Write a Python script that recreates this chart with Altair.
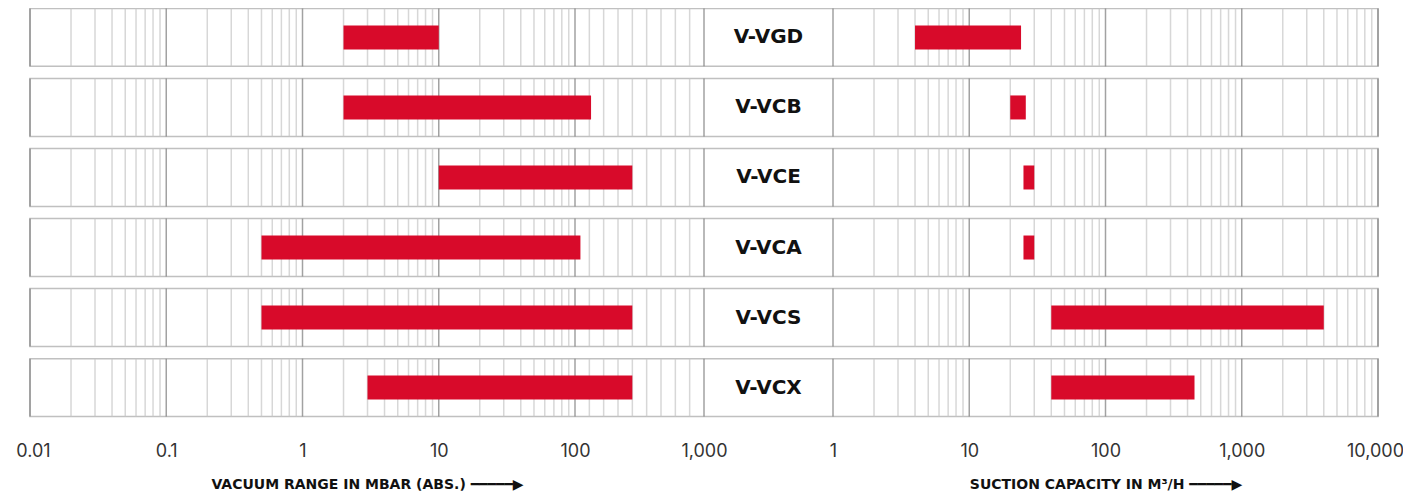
import altair as alt
import pandas as pd

# ---------------- data ----------------
models = ["V-VGD", "V-VCB", "V-VCE", "V-VCA", "V-VCS", "V-VCX"]
vac_min = [2, 2, 10, 0.5, 0.5, 3]          # mbar (abs.)
vac_max = [10, 210, 500, 130, 500, 500]
cap_min = [4, 20, 25, 25, 40, 40]          # m3/h
cap_max = [24, 26, 30, 30, 4000, 450]

vac_major = [0.01, 0.1, 1, 10, 100, 1000]
vac_decades = [0.01, 0.1, 1, 10]
vac_upper_minor = [200, 300, 400, 500, 600, 700, 800, 900]
cap_major = [1, 10, 100, 1000, 10000]
cap_decades = [1, 10, 100, 1000]
multipliers = [2, 3, 4, 5, 6, 7, 8, 9]

# ---------------- layout / style ----------------
W, H = 1348, 408
PI = 0.174
STEP = H / (len(models) - PI)
BAND = STEP * (1 - PI)
LEFT_W = 674
LEFT_100 = 545
RIGHT_X0, RIGHT_X1 = 803, 1348
LABEL_X = (LEFT_W + RIGHT_X0) / 2

RED = "#d80a2a"
MAJ = "#7a7a7a"
MIN = "#c6c6c6"
BORDER = "#c0c0c0"

# piecewise scale on the left: log decades up to 100, then an evenly divided last decade
left_domain = [0.01, 100] + vac_upper_minor + [1000]
left_range = [0, LEFT_100] + [LEFT_100 + (LEFT_W - LEFT_100) * i / 9 for i in range(1, 10)]
left_scale = alt.Scale(type="log", domain=left_domain, range=left_range, nice=False, zero=False)
right_scale = alt.Scale(type="log", domain=[1, 10000], range=[RIGHT_X0, RIGHT_X1], nice=False, zero=False)

yenc = alt.Y("model:N", sort=models,
             scale=alt.Scale(domain=models, paddingInner=PI, paddingOuter=0),
             axis=None)

# ---------------- tables ----------------
rows_df = pd.DataFrame({"model": models})
bars_df = pd.DataFrame({"model": models, "vmin": vac_min, "vmax": vac_max,
                        "cmin": cap_min, "cmax": cap_max})

left_minor = [k * d for d in vac_decades for k in multipliers] + vac_upper_minor
right_minor = [k * d for d in cap_decades for k in multipliers]


def grid_table(minor, major):
    recs = []
    for m in models:
        for v in minor:
            recs.append({"model": m, "v": v, "major": False})
    for m in models:
        for v in major:
            recs.append({"model": m, "v": v, "major": True})
    return pd.DataFrame(recs)


left_grid_df = grid_table(left_minor, vac_major)
right_grid_df = grid_table(right_minor, cap_major)

axis_common = dict(orient="bottom", grid=False, ticks=False, tickSize=0, domain=False,
                   labelFont="Inter", labelFontSize=18, labelColor="#333333",
                   labelPadding=26, labelFlush=False, labelOverlap=False, format=",",
                   titleFont="DejaVu Sans", titleFontSize=14, titleFontWeight="bold",
                   titleColor="#111111", titlePadding=17)

left_axis = alt.Axis(values=vac_major, title="VACUUM RANGE IN MBAR (ABS.) ━━━━━▶",
                     labelOffset=alt.condition("datum.value == 0.01", alt.value(3), alt.value(0)),
                     **axis_common)
right_axis = alt.Axis(values=cap_major, title="SUCTION CAPACITY IN M³/H ━━━━━▶",
                      labelOffset=alt.condition("datum.value == 10000", alt.value(-3), alt.value(0)),
                      **axis_common)

# ---------------- layers ----------------
boxes = alt.Chart(rows_df).mark_rect(fill="white", stroke=BORDER, strokeWidth=1.5).encode(
    y=yenc, x=alt.value(0), x2=alt.value(W))

tick_color = alt.condition("datum.major", alt.value(MAJ), alt.value(MIN))

left_grid = alt.Chart(left_grid_df).mark_tick(orient="vertical", size=BAND, thickness=1.5).encode(
    x=alt.X("v:Q", scale=left_scale, axis=left_axis), y=yenc, color=tick_color)

right_grid = alt.Chart(right_grid_df).mark_tick(orient="vertical", size=BAND, thickness=1.5).encode(
    x=alt.X("v:Q", scale=right_scale, axis=right_axis), y=yenc, color=tick_color)

left_bars = alt.Chart(bars_df).mark_bar(size=24, color=RED).encode(
    x=alt.X("vmin:Q", scale=left_scale, axis=None), x2="vmax:Q", y=yenc)

right_bars = alt.Chart(bars_df).mark_bar(size=24, color=RED).encode(
    x=alt.X("cmin:Q", scale=right_scale, axis=None), x2="cmax:Q", y=yenc)

labels = alt.Chart(rows_df).mark_text(font="DejaVu Sans", fontSize=20, fontWeight="bold",
                                      color="#111111", align="center", baseline="middle").encode(
    y=yenc, text="model:N", x=alt.value(LABEL_X))

chart = alt.layer(boxes, left_grid, right_grid, left_bars, right_bars, labels).resolve_scale(
    x="independent"
).properties(
    width=W, height=H,
    padding={"left": 22, "top": 0.5, "right": 25, "bottom": 74.5},
    autosize=alt.AutoSizeParams(type="none"),
).configure_view(stroke=None)

chart.save("out.html", embed_options={"renderer": "svg", "actions": False})
